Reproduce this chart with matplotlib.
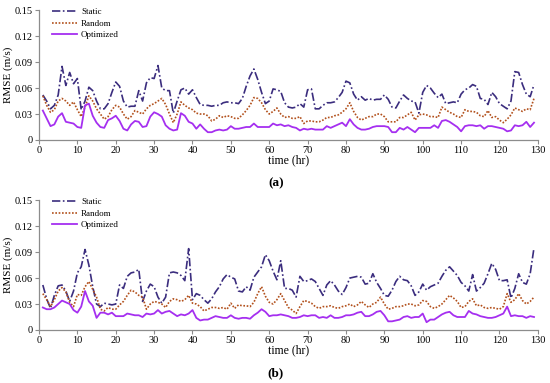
import numpy as np
import matplotlib
matplotlib.use("Agg")
import matplotlib.pyplot as plt

# hours 1..129
hours = np.arange(1, 130)

# panel (a)
static_a = [0.052, 0.045, 0.036, 0.040, 0.052, 0.085, 0.063, 0.078, 0.065, 0.071,
            0.035, 0.045, 0.061, 0.057, 0.045, 0.036, 0.036, 0.042, 0.055, 0.067,
            0.062, 0.045, 0.038, 0.039, 0.039, 0.057, 0.045, 0.066, 0.072, 0.071,
            0.086, 0.060, 0.057, 0.057, 0.031, 0.045, 0.058, 0.060, 0.053, 0.058,
            0.049, 0.041, 0.040, 0.040, 0.039, 0.040, 0.040, 0.043, 0.044, 0.043,
            0.043, 0.042, 0.048, 0.062, 0.074, 0.082, 0.070, 0.055, 0.042, 0.045,
            0.059, 0.058, 0.056, 0.043, 0.038, 0.037, 0.038, 0.042, 0.038, 0.058,
            0.059, 0.036, 0.036, 0.040, 0.043, 0.043, 0.044, 0.049, 0.055, 0.068,
            0.066, 0.053, 0.046, 0.050, 0.046, 0.048, 0.046, 0.047, 0.047, 0.052,
            0.047, 0.038, 0.037, 0.045, 0.052, 0.048, 0.045, 0.044, 0.031, 0.055,
            0.063, 0.060, 0.054, 0.049, 0.053, 0.042, 0.043, 0.044, 0.043, 0.053,
            0.058, 0.060, 0.064, 0.062, 0.048, 0.047, 0.041, 0.055, 0.050, 0.042,
            0.039, 0.036, 0.045, 0.079, 0.078, 0.064, 0.053, 0.050, 0.064]
random_a = [0.051, 0.040, 0.032, 0.035, 0.045, 0.048, 0.045, 0.040, 0.044, 0.035,
            0.027, 0.038, 0.051, 0.045, 0.036, 0.030, 0.024, 0.027, 0.035, 0.040,
            0.038, 0.030, 0.024, 0.027, 0.034, 0.032, 0.030, 0.036, 0.040, 0.042,
            0.045, 0.048, 0.041, 0.030, 0.020, 0.030, 0.044, 0.040, 0.037, 0.035,
            0.031, 0.030, 0.030, 0.028, 0.022, 0.024, 0.028, 0.026, 0.028, 0.027,
            0.025, 0.025, 0.029, 0.034, 0.040, 0.049, 0.048, 0.043, 0.035, 0.030,
            0.033, 0.037, 0.030, 0.026, 0.027, 0.025, 0.025, 0.027, 0.019, 0.022,
            0.022, 0.021, 0.021, 0.023, 0.026, 0.026, 0.028, 0.029, 0.032, 0.036,
            0.043, 0.033, 0.026, 0.023, 0.025, 0.027, 0.027, 0.030, 0.030, 0.027,
            0.021, 0.021, 0.021, 0.026, 0.026, 0.029, 0.032, 0.023, 0.029, 0.030,
            0.029, 0.027, 0.027, 0.026, 0.038, 0.035, 0.032, 0.030, 0.027, 0.026,
            0.035, 0.033, 0.033, 0.032, 0.028, 0.027, 0.034, 0.026, 0.027, 0.023,
            0.020, 0.024, 0.029, 0.037, 0.035, 0.033, 0.036, 0.035, 0.048]
optim_a = [0.034, 0.025, 0.016, 0.018, 0.027, 0.031, 0.021, 0.020, 0.019, 0.015,
           0.014, 0.040, 0.042, 0.028, 0.020, 0.015, 0.014, 0.023, 0.025, 0.028,
           0.022, 0.013, 0.011, 0.018, 0.022, 0.021, 0.015, 0.016, 0.027, 0.032,
           0.030, 0.027, 0.017, 0.013, 0.011, 0.012, 0.031, 0.028, 0.021, 0.019,
           0.013, 0.018, 0.013, 0.009, 0.009, 0.011, 0.012, 0.011, 0.012, 0.016,
           0.013, 0.013, 0.014, 0.015, 0.015, 0.019, 0.015, 0.015, 0.015, 0.015,
           0.019, 0.017, 0.018, 0.016, 0.017, 0.015, 0.014, 0.011, 0.013, 0.012,
           0.013, 0.012, 0.012, 0.012, 0.016, 0.014, 0.016, 0.018, 0.020, 0.016,
           0.024, 0.018, 0.014, 0.012, 0.012, 0.013, 0.015, 0.016, 0.016, 0.016,
           0.015, 0.009, 0.009, 0.014, 0.012, 0.015, 0.012, 0.009, 0.014, 0.014,
           0.014, 0.014, 0.017, 0.014, 0.022, 0.023, 0.021, 0.018, 0.015, 0.010,
           0.016, 0.017, 0.017, 0.016, 0.017, 0.013, 0.016, 0.016, 0.015, 0.014,
           0.013, 0.010, 0.011, 0.017, 0.016, 0.017, 0.021, 0.015, 0.020]

# panel (b)
static_b = [0.052, 0.036, 0.025, 0.040, 0.051, 0.052, 0.045, 0.033, 0.045, 0.066,
            0.073, 0.093, 0.075, 0.050, 0.030, 0.027, 0.031, 0.030, 0.029, 0.030,
            0.052, 0.048, 0.062, 0.066, 0.067, 0.070, 0.033, 0.045, 0.053, 0.050,
            0.038, 0.031, 0.038, 0.066, 0.067, 0.066, 0.063, 0.057, 0.094, 0.035,
            0.042, 0.040, 0.035, 0.031, 0.036, 0.044, 0.050, 0.059, 0.064, 0.061,
            0.059, 0.045, 0.044, 0.050, 0.046, 0.061, 0.067, 0.073, 0.087, 0.080,
            0.068, 0.058, 0.080, 0.048, 0.048, 0.046, 0.038, 0.062, 0.056, 0.057,
            0.059, 0.056, 0.048, 0.040, 0.052, 0.057, 0.052, 0.045, 0.041, 0.049,
            0.060, 0.061, 0.062, 0.061, 0.053, 0.054, 0.065, 0.055, 0.048, 0.040,
            0.039, 0.046, 0.056, 0.062, 0.058, 0.057, 0.051, 0.040, 0.044, 0.053,
            0.046, 0.050, 0.052, 0.054, 0.062, 0.069, 0.073, 0.068, 0.063, 0.055,
            0.051, 0.045, 0.064, 0.045, 0.049, 0.054, 0.065, 0.077, 0.070, 0.057,
            0.057, 0.058, 0.037, 0.048, 0.065, 0.055, 0.053, 0.065, 0.095]
random_b = [0.042, 0.035, 0.027, 0.035, 0.045, 0.049, 0.044, 0.032, 0.027, 0.041,
            0.040, 0.050, 0.056, 0.047, 0.038, 0.024, 0.022, 0.026, 0.024, 0.024,
            0.029, 0.033, 0.040, 0.046, 0.044, 0.040, 0.038, 0.024, 0.030, 0.033,
            0.032, 0.030, 0.026, 0.033, 0.036, 0.035, 0.033, 0.035, 0.040, 0.031,
            0.030, 0.027, 0.022, 0.024, 0.026, 0.026, 0.025, 0.026, 0.024, 0.031,
            0.025, 0.029, 0.028, 0.028, 0.027, 0.032, 0.042, 0.050, 0.039, 0.032,
            0.030, 0.035, 0.042, 0.034, 0.026, 0.023, 0.019, 0.027, 0.034, 0.033,
            0.031, 0.027, 0.025, 0.027, 0.027, 0.028, 0.026, 0.025, 0.027, 0.028,
            0.030, 0.027, 0.029, 0.033, 0.029, 0.026, 0.030, 0.032, 0.038, 0.030,
            0.024, 0.025, 0.027, 0.027, 0.028, 0.030, 0.030, 0.028, 0.029, 0.034,
            0.033, 0.027, 0.025, 0.027, 0.030, 0.035, 0.040, 0.037, 0.033, 0.026,
            0.027, 0.033, 0.036, 0.028, 0.029, 0.026, 0.025, 0.026, 0.025, 0.024,
            0.027, 0.042, 0.032, 0.035, 0.042, 0.034, 0.030, 0.033, 0.038]
optim_b = [0.026, 0.024, 0.024, 0.026, 0.030, 0.034, 0.032, 0.030, 0.023, 0.020,
           0.027, 0.045, 0.033, 0.028, 0.014, 0.020, 0.020, 0.018, 0.020, 0.016,
           0.016, 0.016, 0.019, 0.018, 0.017, 0.017, 0.015, 0.019, 0.018, 0.019,
           0.023, 0.019, 0.021, 0.022, 0.019, 0.016, 0.018, 0.017, 0.019, 0.023,
           0.014, 0.011, 0.012, 0.012, 0.014, 0.016, 0.015, 0.014, 0.014, 0.017,
           0.014, 0.013, 0.014, 0.014, 0.013, 0.017, 0.020, 0.024, 0.021, 0.016,
           0.017, 0.017, 0.018, 0.017, 0.016, 0.014, 0.014, 0.015, 0.017, 0.016,
           0.017, 0.017, 0.014, 0.015, 0.014, 0.017, 0.014, 0.014, 0.015, 0.017,
           0.017, 0.018, 0.020, 0.021, 0.016, 0.016, 0.018, 0.021, 0.022, 0.017,
           0.010, 0.010, 0.011, 0.012, 0.015, 0.016, 0.014, 0.015, 0.015, 0.019,
           0.009, 0.012, 0.012, 0.015, 0.018, 0.020, 0.021, 0.017, 0.015, 0.015,
           0.015, 0.022, 0.019, 0.018, 0.016, 0.015, 0.014, 0.014, 0.015, 0.017,
           0.019, 0.027, 0.016, 0.017, 0.016, 0.016, 0.014, 0.016, 0.015]

yticks = [0, 0.03, 0.06, 0.09, 0.12, 0.15]
ytick_labels = ["0", "0.03", "0.06", "0.09", "0.12", "0.15"]
xticks = np.arange(0, 131, 10)

plt.rcParams["font.family"] = ["Liberation Serif", "DejaVu Serif"]

c_static = "#3b2d7e"
c_random = "#b2501c"
c_optim = "#a52ff0"

fig = plt.figure(figsize=(5.5, 3.83), dpi=100)
ax_a = fig.add_axes([0.0709, 0.6345, 0.907, 0.339])
ax_b = fig.add_axes([0.0709, 0.1384, 0.907, 0.339])

for ax, s, r, o, tag in [(ax_a, static_a, random_a, optim_a, "a"),
                         (ax_b, static_b, random_b, optim_b, "b")]:
    ax.plot(hours, s, color=c_static, lw=1.2, ls=(0, (5, 1.5, 1, 1.5)), label="Static")
    ax.plot(hours, r, color=c_random, lw=1.2, ls=(0, (1, 1)), label="Random")
    ax.plot(hours, o, color=c_optim, lw=1.3, label="Optimized")
    ax.set_xlim(0, 130)
    ax.set_ylim(0, 0.15)
    ax.set_xticks(xticks)
    ax.set_yticks(yticks)
    ax.set_yticklabels(ytick_labels)
    for side in ["top", "right"]:
        ax.spines[side].set_visible(False)
    for side in ["left", "bottom"]:
        ax.spines[side].set_color("#8c8c8c")
        ax.spines[side].set_linewidth(0.9)
    ax.tick_params(axis="both", labelsize=7.5, color="#8c8c8c", length=3, width=0.8, pad=1.5)
    ax.set_ylabel("RMSE (m/s)", fontsize=8)
    ax.yaxis.set_label_coords(-0.053, 0.5)
    ax.set_xlabel("time (hr)", fontsize=8.5, labelpad=-1)
    leg = ax.legend(loc="upper left", bbox_to_anchor=(0.01, 1.08), frameon=False,
                    fontsize=6.5, handlelength=2.8, handletextpad=0.4, labelspacing=0.35)
    ax.text(0.475, -0.33, "(" + tag + ")", transform=ax.transAxes, ha="center",
            va="center", fontsize=9.5, fontweight="bold")

fig.savefig("out.png", dpi=100)
